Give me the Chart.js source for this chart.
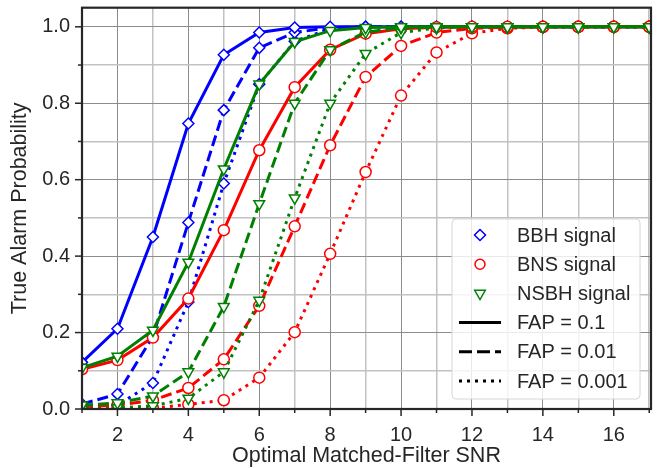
<!DOCTYPE html>
<html>
<head>
<meta charset="utf-8">
<script src="https://cdn.jsdelivr.net/npm/chart.js@4.4.0/dist/chart.umd.min.js"></script>
<style>
  html, body { margin: 0; background: #fff; }
</style>
</head>
<body>
<canvas id="chartTAP" width="665" height="468"></canvas>
<script>
// SNR grid (x) and true alarm probabilities
const snr = [1, 2, 3, 4, 5, 6, 7, 8, 9, 10, 11, 12, 13, 14, 15, 16, 17];

const bbhFap1   = [0.122, 0.21, 0.45, 0.747, 0.927, 0.985, 0.998, 1, 1, 1, 1, 1, 1, 1, 1, 1, 1];
const bbhFap01  = [0.013, 0.039, 0.19, 0.488, 0.782, 0.945, 0.985, 0.998, 1, 1, 1, 1, 1, 1, 1, 1, 1];
const bbhFap001 = [0.004, 0.01, 0.068, 0.28, 0.59, 0.85, 0.962, 0.995, 1, 1, 1, 1, 1, 1, 1, 1, 1];

const bnsFap1   = [0.104, 0.128, 0.187, 0.289, 0.468, 0.677, 0.842, 0.94, 0.982, 0.995, 0.999, 1, 1, 1, 1, 1, 1];
const bnsFap01  = [0.006, 0.01, 0.023, 0.055, 0.13, 0.27, 0.478, 0.69, 0.869, 0.95, 0.985, 0.996, 0.999, 1, 1, 1, 1];
const bnsFap001 = [0, 0, 0.002, 0.012, 0.023, 0.082, 0.201, 0.406, 0.62, 0.82, 0.933, 0.983, 0.996, 0.999, 1, 1, 1];

const nsbhFap1   = [0.108, 0.138, 0.206, 0.384, 0.628, 0.85, 0.961, 0.99, 0.998, 1, 1, 1, 1, 1, 1, 1, 1];
const nsbhFap01  = [0.01, 0.016, 0.034, 0.097, 0.268, 0.537, 0.8, 0.94, 0.986, 0.998, 1, 1, 1, 1, 1, 1, 1];
const nsbhFap001 = [0, 0.003, 0.008, 0.028, 0.097, 0.284, 0.552, 0.8, 0.93, 0.985, 0.997, 1, 1, 1, 1, 1, 1];

const xTickLabels = [2, 4, 6, 8, 10, 12, 14, 16];
const yTickValues = [0, 0.1, 0.2, 0.3, 0.4, 0.5, 0.6, 0.7, 0.8, 0.9, 1.0];
const yTickLabels = ["0.0", "", "0.2", "", "0.4", "", "0.6", "", "0.8", "", "1.0"];
const legendLabels = ["BBH signal", "BNS signal", "NSBH signal", "FAP = 0.1", "FAP = 0.01", "FAP = 0.001"];

const TXT = "#262626";
const FONT = '"Liberation Sans", Arial, sans-serif';
Chart.defaults.font.family = FONT;
Chart.defaults.color = TXT;

const DASH = [11, 5];
const DOT = [3, 5];

const pts = (ys) => snr.map((x, i) => ({ x, y: ys[i] }));

function serie(values, color, style, dash, order) {
  return {
    data: pts(values),
    borderColor: color,
    borderWidth: 3,
    borderDash: dash,
    borderCapStyle: "butt",
    tension: 0,
    fill: false,
    pointStyle: style,
    pointRotation: style === "triangle" ? 180 : 0,
    pointRadius: style === "triangle" ? 6.2 : 5.5,
    pointBorderWidth: 1.5,
    pointBorderColor: color,
    pointBackgroundColor: "#ffffff",
    clip: 0,
    order,
  };
}

const isMajorX = (v) => Math.abs(v / 2 - Math.round(v / 2)) < 1e-6;
const isMajorY = (v) => Math.abs(v * 5 - Math.round(v * 5)) < 1e-6;

// sin márgenes extra por las etiquetas de los extremos
const noEdgePadding = (s) => {
  s.paddingTop = 0; s.paddingBottom = 0; s.paddingLeft = 0; s.paddingRight = 0;
};

// ticks mayores/menores, marco y leyenda dibujados a mano
const framePlugin = {
  id: "frameTicks",
  afterDatasetsDraw(chart) {
    const { ctx, chartArea: a, scales } = chart;
    ctx.save();
    ctx.strokeStyle = TXT;
    ctx.lineWidth = 1.5;
    for (const v of snr) {
      const px = scales.x.getPixelForValue(v);
      const len = isMajorX(v) ? 7 : 4;
      ctx.beginPath();
      ctx.moveTo(px, a.bottom);
      ctx.lineTo(px, a.bottom + len);
      ctx.stroke();
    }
    for (const v of yTickValues) {
      const py = scales.y.getPixelForValue(v);
      const len = isMajorY(v) ? 7 : 4;
      ctx.beginPath();
      ctx.moveTo(a.left, py);
      ctx.lineTo(a.left - len, py);
      ctx.stroke();
    }
    ctx.lineWidth = 2.2;
    ctx.strokeRect(a.left, a.top, a.right - a.left, a.bottom - a.top);

    // leyenda
    const bw = 188, bh = 180;
    const bx = a.right - 11 - bw, by = a.bottom - 10 - bh;
    ctx.beginPath();
    ctx.roundRect(bx, by, bw, bh, 4);
    ctx.fillStyle = "rgba(255,255,255,0.82)";
    ctx.fill();
    ctx.strokeStyle = "#d6d6d6";
    ctx.lineWidth = 1;
    ctx.stroke();

    const mx = bx + 28;
    const colors = ["#0000ff", "#ff0000", "#008000"];
    const dashes = [[], [13, 5], [3, 5]];
    ctx.font = "20px " + FONT;
    ctx.textBaseline = "middle";
    legendLabels.forEach((lab, i) => {
      const cy = by + 16 + i * 29.2;
      ctx.lineWidth = 1.5;
      if (i < 3) {
        ctx.strokeStyle = colors[i];
        ctx.beginPath();
        if (i === 0) {
          ctx.moveTo(mx, cy - 5.5); ctx.lineTo(mx + 5.5, cy);
          ctx.lineTo(mx, cy + 5.5); ctx.lineTo(mx - 5.5, cy); ctx.closePath();
        } else if (i === 1) {
          ctx.arc(mx, cy, 5, 0, Math.PI * 2);
        } else {
          ctx.moveTo(mx - 5.3, cy - 3.1); ctx.lineTo(mx + 5.3, cy - 3.1);
          ctx.lineTo(mx, cy + 6.2); ctx.closePath();
        }
        ctx.stroke();
      } else {
        ctx.strokeStyle = "#000";
        ctx.lineWidth = 3;
        ctx.lineCap = "butt";
        ctx.setLineDash(dashes[i - 3]);
        ctx.beginPath();
        ctx.moveTo(bx + 7, cy);
        ctx.lineTo(bx + 49, cy);
        ctx.stroke();
        ctx.setLineDash([]);
      }
      ctx.fillStyle = TXT;
      ctx.fillText(lab, bx + 65, cy + 1);
    });
    ctx.restore();
  },
};

new Chart(document.getElementById("chartTAP"), {
  type: "line",
  data: {
    datasets: [
      serie(bbhFap1, "#0000ff", "rectRot", [], 3),
      serie(bbhFap01, "#0000ff", "rectRot", DASH, 3),
      serie(bbhFap001, "#0000ff", "rectRot", DOT, 3),
      serie(bnsFap1, "#ff0000", "circle", [], 2),
      serie(bnsFap01, "#ff0000", "circle", DASH, 2),
      serie(bnsFap001, "#ff0000", "circle", DOT, 2),
      serie(nsbhFap1, "#008000", "triangle", [], 1),
      serie(nsbhFap01, "#008000", "triangle", DASH, 1),
      serie(nsbhFap001, "#008000", "triangle", DOT, 1),
    ],
  },
  options: {
    responsive: false,
    animation: false,
    layout: { padding: { top: 6, right: 14, left: 0, bottom: 0 } },
    plugins: { legend: { display: false }, tooltip: { enabled: false } },
    scales: {
      x: {
        type: "linear",
        min: 1,
        max: 17.05,
        afterBuildTicks: (s) => { s.ticks = snr.map((v) => ({ value: v })); },
        afterFit: (s) => { s.height = 59; noEdgePadding(s); },
        border: { display: false },
        grid: {
          color: (c) => (c.tick && isMajorX(c.tick.value) ? "#8c8c8c" : "#c2c2c2"),
          lineWidth: (c) => (c.tick && isMajorX(c.tick.value) ? 1 : 1.5),
          tickLength: 7,
          tickColor: "rgba(0,0,0,0)",
        },
        ticks: {
          autoSkip: false,
          maxRotation: 0,
          padding: 7,
          font: { size: 20 },
          color: TXT,
          callback: (v) => (xTickLabels.includes(v) ? String(v) : ""),
        },
        title: {
          display: true,
          text: "Optimal Matched-Filter SNR",
          font: { size: 21.5 },
          color: TXT,
          padding: { top: 0, bottom: -1 },
        },
      },
      y: {
        min: 0,
        max: 1.05,
        afterBuildTicks: (s) => { s.ticks = yTickValues.map((v) => ({ value: v })); },
        afterFit: (s) => { s.width = 82; noEdgePadding(s); },
        border: { display: false },
        grid: {
          color: (c) => (c.tick && isMajorY(c.tick.value) ? "#8c8c8c" : "#c2c2c2"),
          lineWidth: (c) => (c.tick && isMajorY(c.tick.value) ? 1 : 1.5),
          tickLength: 7,
          tickColor: "rgba(0,0,0,0)",
        },
        ticks: {
          autoSkip: false,
          padding: 5,
          font: { size: 20 },
          color: TXT,
          callback: (v, i) => yTickLabels[i] ?? "",
        },
        title: {
          display: true,
          text: "True Alarm Probability",
          font: { size: 21.5 },
          color: TXT,
          padding: { top: 7, bottom: 7 },
        },
      },
    },
  },
  plugins: [framePlugin],
});
</script>
</body>
</html>
